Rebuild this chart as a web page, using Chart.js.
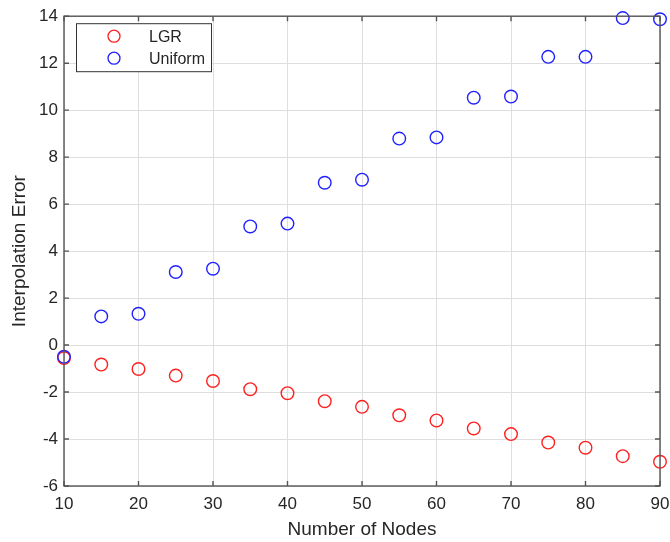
<!DOCTYPE html>
<html>
<head>
<meta charset="utf-8">
<script src="https://cdn.jsdelivr.net/npm/chart.js@4/dist/chart.umd.min.js"></script>
<style>
  body { margin: 0; background: #fff; }
  canvas { display: block; }
</style>
</head>
<body>
<canvas id="grafica" width="670" height="542"></canvas>
<script>
const nodos = [10, 15, 20, 25, 30, 35, 40, 45, 50, 55, 60, 65, 70, 75, 80, 85, 90]
const errorLGR = [-0.55, -0.83, -1.02, -1.30, -1.53, -1.88, -2.05, -2.39, -2.63, -2.99, -3.21, -3.55, -3.79, -4.15, -4.37, -4.73, -4.97]
const errorUniforme = [-0.50, 1.22, 1.33, 3.11, 3.25, 5.05, 5.17, 6.91, 7.04, 8.79, 8.84, 10.53, 10.58, 12.27, 12.27, 13.92, 13.87]
const ticksX = [10, 20, 30, 40, 50, 60, 70, 80, 90]
const ticksY = [-6, -4, -2, 0, 2, 4, 6, 8, 10, 12, 14]

const texto = '#262626'
const fuente = 'Liberation Sans, Arial, Helvetica, sans-serif'

const puntos = (ys) => nodos.map((x, i) => ({ x, y: ys[i] }))

// caja de ejes con marcas hacia dentro (estilo MATLAB)
const caja = {
  id: 'caja',
  afterDatasetsDraw(chart) {
    const { ctx, chartArea: a, scales } = chart
    ctx.save()
    ctx.strokeStyle = '#555'
    ctx.lineWidth = 1.4
    ctx.beginPath()
    ticksX.forEach(v => {
      const px = scales.x.getPixelForValue(v)
      ctx.moveTo(px, a.bottom); ctx.lineTo(px, a.bottom - 5)
      ctx.moveTo(px, a.top); ctx.lineTo(px, a.top + 5)
    })
    ticksY.forEach(v => {
      const py = scales.y.getPixelForValue(v)
      ctx.moveTo(a.left, py); ctx.lineTo(a.left + 5, py)
      ctx.moveTo(a.right, py); ctx.lineTo(a.right - 5, py)
    })
    ctx.stroke()
    ctx.strokeRect(a.left, a.top, a.right - a.left, a.bottom - a.top)
    ctx.restore()
  },
  afterDraw(chart) {
    // leyenda dentro del área
    const { ctx, chartArea: a } = chart
    const x0 = a.left + 12, y0 = a.top + 7, w = 135, h = 48
    ctx.save()
    ctx.fillStyle = '#fff'
    ctx.fillRect(x0, y0, w, h)
    ctx.strokeStyle = '#333'
    ctx.lineWidth = 1
    ctx.strokeRect(x0 + 0.5, y0 + 0.5, w, h)
    ctx.font = '16px ' + fuente
    ctx.textBaseline = 'middle'
    chart.data.datasets.forEach((d, i) => {
      const cy = y0 + 13 + i * 22
      ctx.beginPath()
      ctx.strokeStyle = d.borderColor
      ctx.lineWidth = 1.3
      ctx.arc(x0 + 38, cy, 6, 0, Math.PI * 2)
      ctx.stroke()
      ctx.fillStyle = texto
      ctx.fillText(d.label, x0 + 73, cy + 1)
    })
    ctx.restore()
  }
}

new Chart(document.getElementById('grafica'), {
  type: 'scatter',
  data: {
    datasets: [
      { label: 'LGR', data: puntos(errorLGR), borderColor: '#ff2020', backgroundColor: 'rgba(0,0,0,0)', order: 1 },
      { label: 'Uniform', data: puntos(errorUniforme), borderColor: '#2020ff', backgroundColor: 'rgba(0,0,0,0)', order: 0 }
    ]
  },
  options: {
    responsive: false,
    animation: false,
    layout: { padding: { top: 15, right: 0, left: 0, bottom: 0 } },
    elements: { point: { radius: 6.3, borderWidth: 1.4, hoverRadius: 6.3 } },
    datasets: { scatter: { clip: false } },
    plugins: { legend: { display: false }, tooltip: { enabled: false } },
    scales: {
      x: {
        type: 'linear', min: 10, max: 90,
        afterFit: s => { s.height = 56; s.paddingLeft = 0; s.paddingRight = 10 },
        afterBuildTicks: s => { s.ticks = ticksX.map(value => ({ value })) },
        grid: { color: '#dedede', drawTicks: false },
        border: { display: false },
        ticks: { color: texto, font: { size: 17, family: fuente }, padding: 8, maxRotation: 0 },
        title: { display: true, text: 'Number of Nodes', color: texto, font: { size: 19, family: fuente, lineHeight: 1.2 }, padding: { top: 0, bottom: 1 } }
      },
      y: {
        type: 'linear', min: -6, max: 14,
        afterFit: s => { s.width = 64 },
        afterBuildTicks: s => { s.ticks = ticksY.map(value => ({ value })) },
        grid: { color: '#dedede', drawTicks: false },
        border: { display: false },
        ticks: { color: texto, font: { size: 17, family: fuente }, padding: 6 },
        title: { display: true, text: 'Interpolation Error', color: texto, font: { size: 19, family: fuente, lineHeight: 1.2 }, padding: { top: 8, bottom: 0 } }
      }
    }
  },
  plugins: [caja]
})
</script>
</body>
</html>
